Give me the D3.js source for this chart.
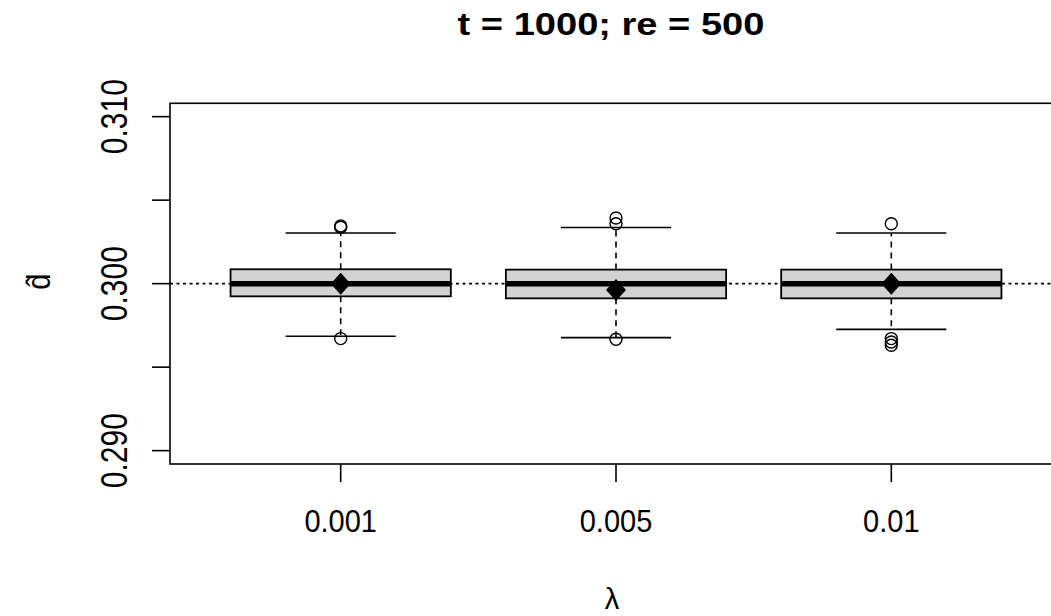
<!DOCTYPE html>
<html>
<head>
<meta charset="utf-8">
<script src="https://cdn.jsdelivr.net/npm/d3@7"></script>
<style>
  html, body { margin: 0; padding: 0; background: #fff; overflow: hidden; }
  text { font-family: "Liberation Sans", Arial, sans-serif; fill: #000; }
</style>
</head>
<body>
<svg id="chart" width="1051" height="616"></svg>
<script>
// ---- data ----
const categories = ["0.001", "0.005", "0.01"];
const q1 =      [0.29924, 0.29912, 0.29912];
const medians = [0.30000, 0.30000, 0.30000];
const q3 =      [0.30086, 0.30084, 0.30084];
const whiskerLow =  [0.29685, 0.29677, 0.29726];
const whiskerHigh = [0.30303, 0.30336, 0.30303];
const means = [0.30000, 0.29962, 0.30000];
const outliers = [
  [0.30338, 0.30346, 0.29671],
  [0.30393, 0.30359, 0.29667],
  [0.30359, 0.29671, 0.29651, 0.29631]
];
const yTicks = [0.290, 0.295, 0.300, 0.305, 0.310];
const yTickLabels = ["0.290", "", "0.300", "", "0.310"];
const refLine = 0.300;
const title = "t = 1000; re = 500";
const xLabel = "λ";
const yLabel = "d\u0302";

// ---- layout ----
const svg = d3.select("#chart");
const pLeft = 170, pRight = 1062, pTop = 103.3, pBottom = 464;

const x = d3.scaleLinear().domain([0.38, 3.62]).range([pLeft, pRight]);
const y = d3.scaleLinear().domain([0.2892, 0.3108]).range([pBottom, pTop]);

const boxHalf = 0.4, capHalf = 0.2;

// reference dotted line
svg.append("line")
  .attr("x1", pLeft).attr("x2", pRight)
  .attr("y1", y(refLine)).attr("y2", y(refLine))
  .attr("stroke", "#000").attr("stroke-width", 1.6)
  .attr("stroke-dasharray", "3,3.5");

const g = svg.append("g");
categories.forEach((c, i) => {
  const cx = x(i + 1);
  // whiskers (dashed)
  g.append("line").attr("x1", cx).attr("x2", cx)
    .attr("y1", y(q3[i])).attr("y2", y(whiskerHigh[i]))
    .attr("stroke", "#000").attr("stroke-width", 1.6).attr("stroke-dasharray", "6,5");
  g.append("line").attr("x1", cx).attr("x2", cx)
    .attr("y1", y(q1[i])).attr("y2", y(whiskerLow[i]))
    .attr("stroke", "#000").attr("stroke-width", 1.6).attr("stroke-dasharray", "6,5");
  // caps
  [whiskerHigh[i], whiskerLow[i]].forEach(v => {
    g.append("line")
      .attr("x1", x(i + 1 - capHalf)).attr("x2", x(i + 1 + capHalf))
      .attr("y1", y(v)).attr("y2", y(v))
      .attr("stroke", "#000").attr("stroke-width", 1.6);
  });
  // box
  g.append("rect")
    .attr("x", x(i + 1 - boxHalf)).attr("width", x(i + 1 + boxHalf) - x(i + 1 - boxHalf))
    .attr("y", y(q3[i])).attr("height", y(q1[i]) - y(q3[i]))
    .attr("fill", "#d3d3d3").attr("stroke", "#000").attr("stroke-width", 1.8);
  // median
  g.append("line")
    .attr("x1", x(i + 1 - boxHalf)).attr("x2", x(i + 1 + boxHalf))
    .attr("y1", y(medians[i])).attr("y2", y(medians[i]))
    .attr("stroke", "#000").attr("stroke-width", 5.5);
  // outliers
  outliers[i].forEach(v => {
    g.append("circle").attr("cx", cx).attr("cy", y(v)).attr("r", 6)
      .attr("fill", "none").attr("stroke", "#000").attr("stroke-width", 1.4);
  });
  // mean diamond
  const my = y(means[i]);
  g.append("path")
    .attr("d", `M${cx},${my - 11} L${cx + 10},${my} L${cx},${my + 11} L${cx - 10},${my} Z`)
    .attr("fill", "#000");
});

// plot border
svg.append("rect")
  .attr("x", pLeft).attr("y", pTop).attr("width", pRight - pLeft).attr("height", pBottom - pTop)
  .attr("fill", "none").attr("stroke", "#000").attr("stroke-width", 1.6);

// y axis
const yAxis = svg.append("g");
yTicks.forEach((t, k) => {
  yAxis.append("line").attr("x1", pLeft - 18).attr("x2", pLeft)
    .attr("y1", y(t)).attr("y2", y(t)).attr("stroke", "#000").attr("stroke-width", 1.6);
  if (yTickLabels[k]) {
    yAxis.append("text")
      .attr("transform", `translate(127,${y(t)}) rotate(-90) scale(1,1.2)`)
      .attr("text-anchor", "middle")
      .attr("font-size", 30)
      .text(yTickLabels[k]);
  }
});

// x axis
const xAxis = svg.append("g");
categories.forEach((c, i) => {
  xAxis.append("line").attr("x1", x(i + 1)).attr("x2", x(i + 1))
    .attr("y1", pBottom).attr("y2", pBottom + 18).attr("stroke", "#000").attr("stroke-width", 1.6);
  xAxis.append("text")
    .attr("transform", `translate(${x(i + 1)},532) scale(1,1.05)`)
    .attr("text-anchor", "middle").attr("font-size", 29).text(c);
});

// labels
svg.append("text").attr("x", 612).attr("y", 609).attr("text-anchor", "middle")
  .attr("font-family", "'Liberation Serif', serif")
  .attr("font-size", 29).text(xLabel);
svg.append("text")
  .attr("transform", `translate(50,${(pTop + pBottom) / 2 - 2}) rotate(-90) scale(1,1.15)`)
  .attr("text-anchor", "middle").attr("font-size", 29).text(yLabel);
svg.append("text")
  .attr("transform", "translate(611,35) scale(1.19,1)")
  .attr("text-anchor", "middle").attr("font-size", 32).attr("font-weight", "bold")
  .text(title);
</script>
</body>
</html>
